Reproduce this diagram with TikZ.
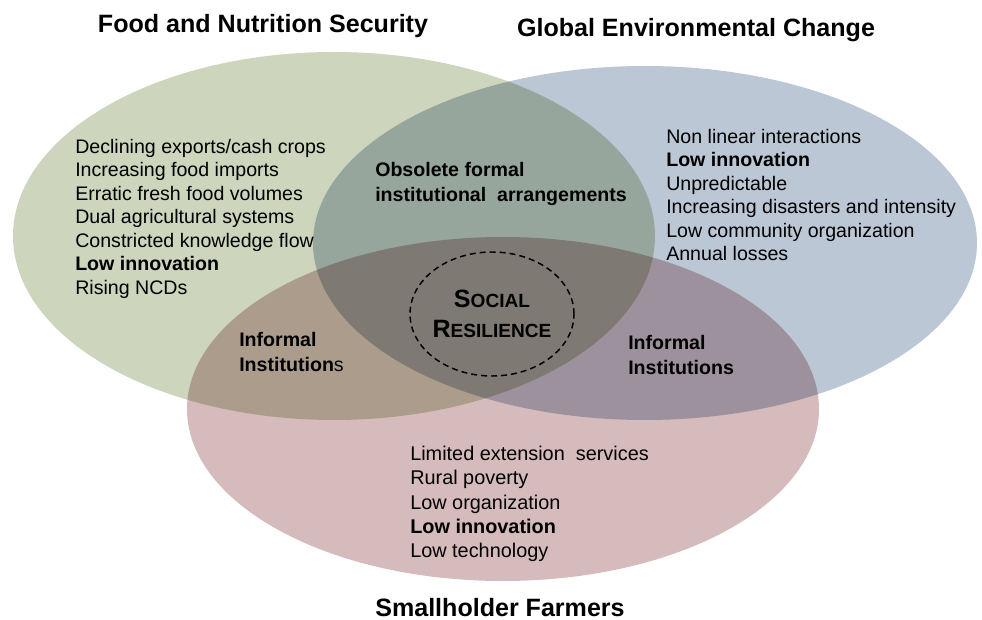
\documentclass[tikz,border=0pt]{standalone}
\usepackage{fontspec}
\setmainfont{Liberation Sans}
\usetikzlibrary{shapes.geometric}

\definecolor{fnsgreen}{HTML}{CDD5BD}
\definecolor{gecblue}{HTML}{BCC7D5}
\definecolor{shfpink}{HTML}{D6BBBC}

% first letter of a fake small-caps word
\newcommand\scinit[1]{{\fontsize{18.8pt}{22.5pt}\selectfont #1}}

\tikzset{
  heading/.style={font=\fontsize{18.8pt}{22pt}\selectfont\bfseries, inner sep=0pt, anchor=base},
  factors/.style={font=\fontsize{14.7pt}{17.6pt}\selectfont, align=left, inner sep=0pt, anchor=north west},
  overlap/.style={factors, font=\fontsize{14.7pt}{19pt}\selectfont\bfseries},
}

\begin{document}
\begin{tikzpicture}[x=0.75pt,y=-0.75pt]
\useasboundingbox (0,0) rectangle (982,620);

% the three sets, darker where they overlap
\begin{scope}[blend group=multiply]
\fill[fnsgreen] (334,236) ellipse [x radius=321,y radius=184];
\fill[gecblue] (645,243) ellipse [x radius=332,y radius=177];
\fill[shfpink] (503,409) ellipse [x radius=316,y radius=172];
\end{scope}

\node[heading] (fns) at (263,33) {Food and Nutrition Security};
\node[heading] (gec) at (696,37) {Global Environmental Change};
\node[heading] (shf) at (500,616) {Smallholder Farmers};

\node[factors] (fnslist) at (75,139) {Declining exports/cash crops\\
  Increasing food imports\\
  Erratic fresh food volumes\\
  Dual agricultural systems\\
  Constricted knowledge flow\\
  \textbf{Low innovation}\\
  Rising NCDs};
\node[factors] (geclist) at (666,129) {Non linear interactions\\
  \textbf{Low innovation}\\
  Unpredictable\\
  Increasing disasters and intensity\\
  Low community organization\\
  Annual losses};
\node[factors, font=\fontsize{14.9pt}{18.2pt}\selectfont] (shflist) at (410,446) {Limited extension\ \ services\\
  Rural poverty\\
  Low organization\\
  \textbf{Low innovation}\\
  Low technology};

% labels in the overlaps
\node[overlap] (formal) at (375,162) {Obsolete formal\\institutional\ \ arrangements};
\node[overlap] (infleft) at (239,332) {Informal\\Institution\textmd{s}};
\node[overlap] (infright) at (628,335) {Informal\\Institutions};

\node[ellipse, draw, dashed, line width=1.1pt, dash pattern=on 4.5pt off 3pt,
  inner xsep=-2pt, inner ysep=0pt, minimum width=123pt, minimum height=93pt,
  align=center, font=\fontsize{14.3pt}{22.5pt}\selectfont\bfseries] (core) at (492,314)
  {\scinit{S}OCIAL\\\scinit{R}ESILIENCE};
\end{tikzpicture}
\end{document}
